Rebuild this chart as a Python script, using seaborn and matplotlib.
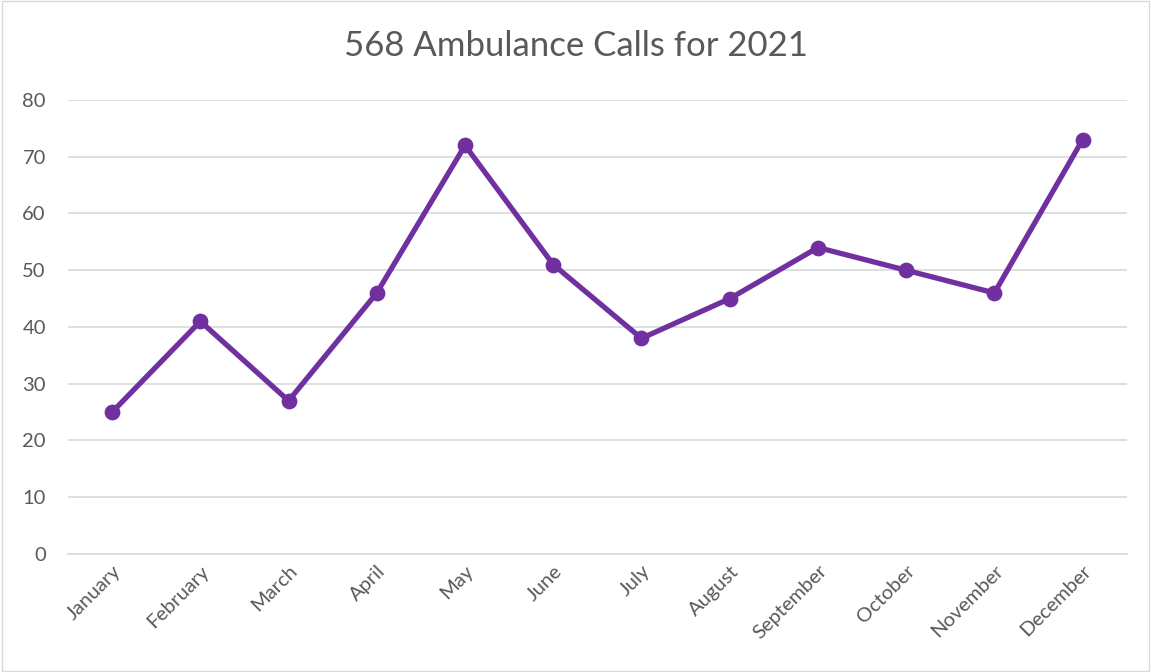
import matplotlib
matplotlib.use("Agg")
import matplotlib.pyplot as plt
import seaborn as sns
import pandas as pd

months = ["January", "February", "March", "April", "May", "June", "July",
          "August", "September", "October", "November", "December"]
calls = [25, 41, 27, 46, 72, 51, 38, 45, 54, 50, 46, 73]
title = "568 Ambulance Calls for 2021"

sns.set_theme(style="white")
plt.rcParams['font.family'] = ['Lato', 'DejaVu Sans']

df = pd.DataFrame({"month": months, "calls": calls})

fig = plt.figure(figsize=(11.51, 6.72), dpi=100)
ax = fig.add_axes([0.0591, 0.1756, 0.9198, 0.6756])

sns.pointplot(data=df, x="month", y="calls", color="#7030A0", ax=ax,
              markers="o", linewidth=3.8, markersize=8.5)

ax.set_ylim(0, 80)
ax.set_yticks(range(0, 81, 10))
ax.set_xlim(-0.5, len(months) - 0.5)
ax.yaxis.grid(True, color="#D9D9D9", linewidth=1.2)
ax.xaxis.grid(False)
ax.set_axisbelow(True)
for s in ["top", "right", "left"]:
    ax.spines[s].set_visible(False)
ax.spines["bottom"].set_color("#D9D9D9")
ax.spines["bottom"].set_linewidth(1.2)
ax.set_xlabel("")
ax.set_ylabel("")
ax.tick_params(axis="both", length=0, colors="#595959", labelsize=14.5)
ax.tick_params(axis="y", pad=16)
ax.tick_params(axis="x", pad=6)
plt.setp(ax.get_xticklabels(), rotation=45, ha="right", rotation_mode="anchor")

fig.text(0.5, 0.932, title, ha="center", va="center", fontsize=25, color="#595959")

border = plt.Rectangle((0.002, 0.002), 0.996, 0.996, transform=fig.transFigure,
                       fill=False, edgecolor="#D9D9D9", linewidth=1)
fig.patches.append(border)

fig.savefig("out.png", dpi=100)
